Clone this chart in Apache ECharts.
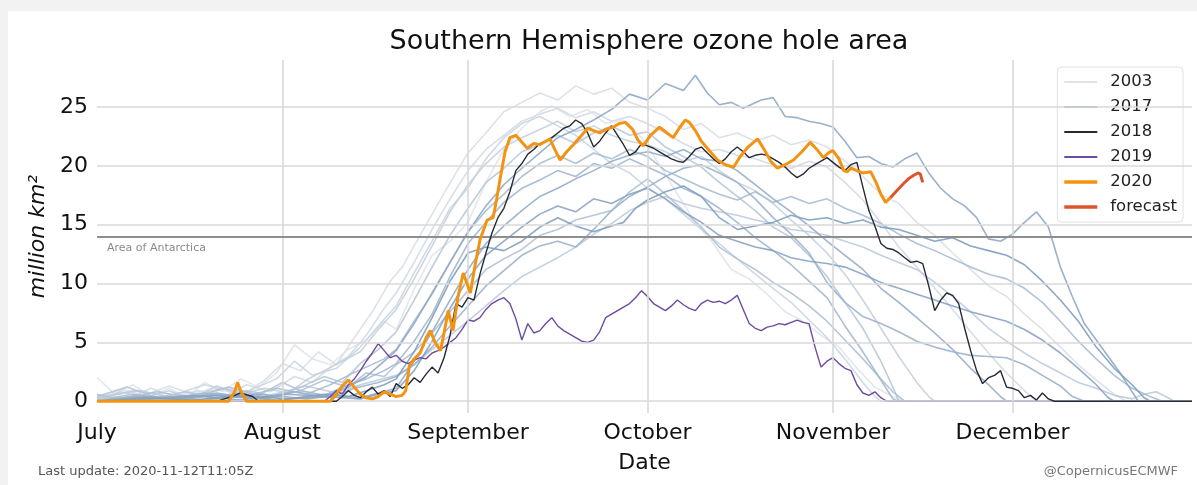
<!DOCTYPE html>
<html>
<head>
<meta charset="utf-8">
<script src="https://cdn.jsdelivr.net/npm/echarts@6/dist/echarts.min.js"></script>
<style>
html,body{margin:0;padding:0;background:#f2f2f2;}
#chart{width:1197px;height:485px;}
</style>
</head>
<body>
<div id="chart"></div>
<script>
// ---------- data ----------
const months = ['July', 'August', 'September', 'October', 'November', 'December'];
const monthStartDays = [0, 31, 62, 92, 123, 153];   // days since 1 July
const yTicks = [0, 5, 10, 15, 20, 25];
const antarcticaArea = 14;

// background years 2003-2017: [day since 1 July, million km2]
const y2003 = [[0,2],[3,0.6],[6,1.4],[9,0.4],[12,1.1],[15,0.3],[18,1.6],[21,0.8],[24,1.9],[27,1.2],[30,2.4],[33,4.8],[36,3.6],[39,3.1],[42,4.4],[45,5.2],[48,6.8],[50,6.1],[53,9.5],[56,12.4],[59,13.6],[62,15.2],[65,18.6],[68,21.4],[71,23.2],[74,24.6],[76,25.1],[79,24.2],[82,24.8],[85,23.6],[88,23.9],[91,22.4],[94,20.1],[97,17.6],[100,15.2],[103,13.4],[106,11.2],[109,10.4],[112,9.1],[115,7.6],[118,6.8],[121,5.6],[124,4.6],[127,2.8],[130,1.2],[133,0.4],[135,0],[183,0]];
const y2004 = [[0,0.3],[4,1],[8,0.5],[12,1.3],[16,0.6],[20,1.2],[24,0.4],[28,1.8],[31,3.2],[34,2.6],[37,4.2],[40,3.1],[43,5.4],[46,7.6],[49,10.2],[51,11.4],[54,14.1],[57,16.8],[60,19.4],[62,21.1],[65,22.8],[68,24.6],[71,25.4],[74,26.2],[77,25.6],[80,26.8],[83,26.1],[86,26.6],[89,25.4],[92,24.9],[95,24.2],[98,23.1],[101,23.6],[104,22.4],[107,22.8],[110,22.1],[113,22.6],[116,21.8],[119,22.2],[122,21.6],[125,20.4],[128,19.1],[131,17.6],[134,16.8],[137,15.2],[140,14.1],[143,12.6],[146,11.2],[149,9.8],[152,8.9],[155,7.4],[158,6.1],[161,4.6],[164,3.1],[167,1.8],[170,0.6],[172,0],[183,0]];
const y2005 = [[0,0.5],[5,0.2],[9,1.1],[13,0.4],[17,0.9],[21,0.3],[25,1.4],[29,0.8],[33,2.1],[36,1.6],[39,2.9],[42,3.8],[45,5.6],[48,7.9],[50,9.2],[53,11.8],[56,14.6],[59,17.2],[62,19.6],[65,21.4],[68,22.6],[71,23.8],[74,24.4],[77,24.9],[80,24.1],[83,24.6],[86,23.8],[89,24.2],[92,23.6],[95,22.8],[98,21.9],[101,21.2],[104,21.4],[107,20.9],[110,20.6],[113,20.1],[116,19.8],[119,20.4],[122,19.9],[125,18.6],[128,17.1],[131,15.2],[134,13.1],[137,11.4],[140,9.6],[143,7.8],[146,5.9],[149,4.1],[152,2.4],[155,0.9],[157,0],[183,0]];
const y2006 = [[0,0.2],[6,0.9],[12,0.4],[18,1.4],[24,0.6],[30,1.9],[33,3.4],[36,2.2],[40,2.8],[44,4.6],[47,6.4],[50,8.1],[53,10.9],[56,13.6],[59,16.4],[62,18.1],[65,20.6],[68,22.4],[71,23.6],[74,24.2],[77,23.4],[80,22.6],[83,21.4],[86,20.2],[89,19.4],[92,18.1],[95,17.2],[98,15.9],[101,14.6],[104,13.4],[107,12.1],[110,10.8],[113,9.6],[116,8.4],[119,6.9],[122,5.4],[125,3.6],[128,1.6],[130,0.4],[131,0],[183,0]];
const y2007 = [[0,0.2],[4,0.8],[8,0.3],[12,0.9],[16,0.2],[20,1.3],[24,0.6],[28,1.1],[32,0.7],[35,1.8],[38,2.6],[41,3.4],[44,4.2],[47,6.1],[50,7.8],[53,10.4],[56,13.2],[59,16.1],[62,18.4],[65,20.2],[68,21.6],[71,22.4],[74,23.1],[77,23.8],[80,22.9],[83,23.4],[86,22.6],[89,22.1],[92,21.8],[95,21.2],[98,20.4],[101,20.8],[104,19.6],[107,18.6],[110,17.9],[113,16.8],[116,15.4],[119,14.1],[122,12.6],[125,10.8],[128,8.6],[131,6.2],[134,3.8],[137,1.6],[139,0.4],[140,0],[183,0]];
const y2008 = [[0,0.3],[7,0.9],[14,0.2],[21,1.1],[28,0.4],[35,1.3],[40,0.7],[44,1.4],[47,1.8],[50,2.2],[53,3.1],[56,4.4],[59,5.6],[62,6.8],[65,8.1],[68,9.4],[71,10.6],[74,11.4],[77,12.2],[80,13.1],[83,14.2],[86,15.1],[89,16.2],[92,16.9],[95,17.4],[98,16.8],[101,16.4],[104,16.1],[107,15.8],[110,15.4],[113,15.1],[116,14.6],[119,14.4],[122,14.1],[125,13.6],[128,13.1],[131,12.4],[134,11.8],[137,11.2],[140,10.1],[143,8.9],[146,7.6],[149,6.2],[152,5.1],[155,4.1],[158,3.2],[161,2.4],[164,1.6],[167,1.1],[170,0.5],[173,0.2],[175,0.6],[177,0.8],[179,0.3],[180,0],[183,0]];
const y2009 = [[0,0.4],[5,1.2],[10,0.3],[15,0.8],[20,0.2],[25,0.9],[30,0.4],[34,1.2],[38,2.1],[41,1.6],[44,3.2],[47,4.4],[50,5.9],[53,8.6],[56,11.4],[59,14.1],[62,16.4],[65,18.6],[68,19.8],[71,21.2],[74,21.8],[77,22.6],[80,21.9],[83,22.8],[86,23.4],[89,22.6],[92,22.9],[95,21.6],[98,20.8],[101,19.9],[104,18.6],[107,17.4],[110,16.2],[113,14.8],[116,13.9],[119,12.4],[122,10.6],[125,8.4],[128,6.2],[131,3.4],[133,1.2],[134,0],[183,0]];
const y2010 = [[0,0.6],[4,0.1],[10,0.8],[16,0.3],[22,1.2],[27,0.5],[31,1.6],[34,0.9],[38,1.8],[42,1.2],[45,2.4],[48,2.1],[50,3.1],[53,4.2],[56,5.8],[59,7.6],[62,9.4],[65,11.2],[68,12.1],[71,12.9],[74,14.1],[77,14.6],[80,15.4],[83,15.8],[86,16.2],[89,17.8],[92,18.9],[95,17.6],[98,16.2],[101,14.8],[104,13.1],[107,12.1],[110,11.2],[113,10.1],[116,9.2],[119,8.1],[122,6.8],[125,5.2],[128,3.6],[131,1.9],[133,0.8],[135,0],[183,0]];
const y2011 = [[0,0.1],[6,0.6],[12,0.2],[18,0.7],[24,0.3],[30,1.1],[35,0.6],[39,1.4],[42,2.2],[45,2.9],[48,3.6],[50,4.4],[53,6.8],[56,9.1],[59,11.8],[62,14.4],[65,16.2],[68,17.6],[71,19.1],[74,20.2],[77,20.9],[80,20.2],[83,21.1],[86,20.6],[89,21.4],[92,20.8],[95,19.6],[98,18.9],[101,18.2],[104,17.6],[107,17.1],[110,17.8],[113,16.9],[116,17.4],[119,16.8],[122,17.2],[125,16.4],[128,15.8],[131,15.1],[134,14.2],[137,13.4],[140,12.8],[143,12.1],[146,11.4],[149,10.8],[152,10.4],[155,9.6],[158,8.4],[161,6.8],[164,5.1],[167,3.6],[170,2.2],[173,1.1],[176,0.4],[178,0],[183,0]];
const y2012 = [[0,0],[7,0.5],[14,0.1],[21,0.6],[28,0.2],[34,0.9],[38,0.5],[42,1.4],[45,1.9],[48,2.6],[50,3.2],[53,5.1],[56,7.4],[59,10.6],[62,13.4],[65,15.2],[68,16.9],[71,18.1],[74,18.8],[77,19.6],[80,19.1],[83,20.2],[86,19.8],[89,20.6],[92,19.9],[95,19.2],[98,18.1],[101,17.4],[104,16.4],[107,15.2],[110,13.9],[113,12.8],[116,11.6],[119,10.2],[122,8.8],[125,6.4],[128,4.2],[131,1.8],[133,0.2],[134,0],[183,0]];
const y2013 = [[0,0],[6,0.4],[13,0.1],[20,0.7],[26,0.2],[33,0.8],[39,0.3],[43,1.1],[47,1.6],[50,2.1],[53,3.1],[56,4.6],[59,6.4],[62,8.1],[65,9.8],[68,11.1],[71,12.4],[74,13.2],[77,13.6],[80,13.1],[83,14.6],[86,16.2],[89,17.4],[92,18.2],[95,19.1],[98,19.8],[101,20.1],[104,19.4],[107,18.6],[110,17.2],[113,15.6],[116,14.2],[119,12.6],[122,10.1],[125,8.4],[128,7.2],[131,6.6],[134,5.9],[137,5.1],[140,4.6],[143,4.2],[146,3.9],[149,3.8],[152,3.7],[155,3.1],[158,2.2],[161,1.3],[163,0.4],[165,0],[183,0]];
const y2014 = [[0,0],[9,0.4],[18,0.1],[27,0.6],[35,0.2],[40,0.5],[44,0.3],[47,0.7],[50,1.1],[53,3.4],[56,5.9],[59,8.6],[62,11.2],[65,13.4],[68,14.9],[71,16.2],[74,17.4],[77,18.1],[80,18.9],[83,19.6],[86,20.4],[89,20.9],[92,21.2],[95,20.8],[98,21.4],[101,20.6],[104,20.4],[107,19.6],[110,18.4],[113,17.2],[116,16.1],[119,14.9],[122,13.6],[125,12.4],[128,11.2],[131,9.6],[134,8.4],[137,7.1],[140,5.8],[143,4.4],[146,2.8],[149,1.4],[151,0.4],[152,0],[183,0]];
const y2015 = [[0,0],[8,0.2],[16,0.5],[24,0.1],[32,0.6],[38,0.4],[42,1.2],[45,2.1],[48,3.4],[50,4.3],[53,6.6],[56,9.2],[59,11.8],[62,14.4],[65,16.6],[68,18.4],[71,19.8],[74,21.1],[77,22.4],[80,23.1],[83,23.9],[86,24.8],[89,26.1],[92,25.6],[95,27],[98,26.4],[100,27.7],[102,26.2],[104,25.2],[106,25.4],[108,24.9],[111,25.6],[113,25.8],[115,24.2],[117,24.1],[119,23.8],[121,23.6],[123,23.3],[125,22.1],[127,20.7],[129,20.8],[131,20.2],[133,19.9],[135,20.6],[137,21.1],[139,19.4],[141,18.1],[143,17.2],[145,16.6],[147,15.6],[149,13.8],[151,13.6],[153,14.2],[155,15.2],[157,16.1],[159,14.8],[161,11.4],[163,8.9],[165,6.6],[167,5.2],[169,3.8],[171,2.4],[173,0.8],[174,0],[183,0]];
const y2016 = [[0,0],[10,0.2],[20,0.5],[30,0.1],[38,0.4],[44,0.2],[47,0.6],[50,0.9],[53,2.6],[56,5.1],[59,7.9],[62,10.4],[65,12.4],[68,13.6],[71,14.8],[74,15.9],[77,16.6],[80,16.1],[83,17.2],[86,16.8],[89,17.6],[92,18.1],[95,17.2],[98,16.1],[101,15.2],[104,14.1],[107,13.6],[110,13.1],[113,12.8],[116,12.2],[119,11.9],[122,11.7],[125,11.4],[128,10.8],[131,10.1],[134,9.6],[137,9.1],[140,8.6],[143,8.1],[146,7.6],[149,7.2],[152,6.8],[155,6.1],[158,5.2],[161,4.1],[164,2.8],[167,1.4],[169,0.3],[170,0],[183,0]];
const y2017 = [[0,0],[8,0.3],[16,0.1],[24,0.5],[32,0.2],[38,0.6],[42,0.4],[45,0.9],[48,1.4],[50,1.9],[53,4.2],[56,7.1],[59,10.2],[62,12.6],[65,13.1],[68,12.8],[71,13.6],[74,14.8],[77,15.6],[80,14.9],[83,14.4],[86,14.9],[88,15.2],[90,16.4],[92,17.1],[95,17.8],[98,18.3],[101,17.4],[104,15.6],[107,14.6],[110,14.9],[113,15.2],[116,15.8],[119,15.4],[122,15.6],[125,15.1],[128,15.4],[131,14.8],[134,14.6],[137,14.1],[140,13.6],[143,13.9],[146,13.2],[149,12.8],[152,12.4],[155,11.6],[158,10.2],[161,8.6],[164,6.8],[167,4.6],[170,2.8],[173,1.4],[175,0.3],[176,0],[183,0]];

const y2018 = [[0,0],[20,0],[22,0.3],[24,0.7],[26,0.4],[27,0],[40,0],[41,0.4],[42,0.9],[43,0.5],[44,0.3],[45,0.8],[46,1.2],[47,0.6],[48,0.9],[49,0.4],[50,1.5],[51,1.1],[52,1.4],[53,2.0],[54,1.6],[55,2.3],[56,2.9],[57,2.4],[58,3.7],[59,5.6],[60,8.3],[61,8.0],[62,8.8],[63,8.6],[64,10.8],[65,12.6],[66,14.3],[67,15.6],[68,16.4],[69,17.8],[70,19.6],[71,20.2],[72,21],[73,21.4],[74,21.9],[75,22.1],[76,22.4],[77,22.8],[78,23.2],[79,23.4],[80,23.9],[81,23.6],[82,22.8],[83,21.6],[84,22.1],[85,22.8],[86,23.4],[87,22.6],[88,21.8],[89,20.9],[90,21.2],[91,21.9],[92,21.7],[93,21.5],[94,21.2],[95,20.9],[96,20.6],[97,20.4],[98,20.3],[99,20.8],[100,21.4],[101,21.6],[102,21.1],[103,20.6],[104,20.2],[105,20.6],[106,21.2],[107,21.6],[108,21.2],[109,20.7],[110,20.9],[111,21.0],[112,20.9],[113,20.6],[114,20.3],[115,19.9],[116,19.4],[117,19.0],[118,19.3],[119,19.8],[120,20.1],[121,20.4],[122,20.7],[123,20.3],[124,19.9],[125,19.6],[126,20.1],[127,20.3],[128,18.2],[129,16.2],[130,14.9],[131,13.4],[132,13.0],[133,12.9],[134,12.6],[135,12.2],[136,11.8],[137,11.9],[138,11.7],[139,9.8],[140,7.7],[141,8.6],[142,9.2],[143,9.0],[144,8.3],[145,6.2],[146,4.3],[147,2.6],[148,1.5],[149,2.0],[150,2.2],[151,2.6],[152,1.2],[153,1.1],[154,0.9],[155,0.3],[156,0.5],[157,0.1],[158,0.7],[159,0.2],[160,0],[183,0]];

const y2019 = [[0,0],[38,0],[39,0.4],[40,0.9],[41,0.6],[42,1.4],[43,1.9],[44,2.6],[45,3.4],[46,4.1],[47,4.9],[48,4.3],[49,3.7],[50,3.9],[51,3.4],[52,3.2],[53,3.5],[54,3.7],[55,3.6],[56,4.1],[57,4.3],[58,4.6],[59,5.0],[60,5.4],[61,6.1],[62,6.9],[63,6.8],[64,7.1],[65,7.8],[66,8.3],[67,8.6],[68,8.8],[69,8.3],[70,7.0],[71,5.2],[72,6.6],[73,5.8],[74,6.0],[75,6.6],[76,7.1],[77,6.4],[78,6.0],[79,5.7],[80,5.4],[81,5.1],[82,5.0],[83,5.2],[84,5.9],[85,7.1],[86,7.4],[87,7.7],[88,8.0],[89,8.3],[90,8.8],[91,9.4],[92,8.9],[93,8.3],[94,8.0],[95,7.7],[96,8.1],[97,8.6],[98,8.2],[99,7.9],[100,7.7],[101,8.3],[102,8.6],[103,8.4],[104,8.5],[105,8.3],[106,8.6],[107,9.0],[108,7.8],[109,6.6],[110,6.2],[111,6.0],[112,6.3],[113,6.4],[114,6.6],[115,6.5],[116,6.7],[117,6.9],[118,6.7],[119,6.6],[120,4.6],[121,2.9],[122,3.4],[123,3.7],[124,3.2],[125,2.8],[126,2.6],[127,1.4],[128,0.7],[129,0.5],[130,0.8],[131,0.3],[132,0],[183,0]];

const y2020 = [[0,0],[22,0],[23,0.8],[23.5,1.6],[24,0.9],[25,0],[39,0],[40,0.6],[41,1.3],[42,1.8],[43,1.2],[44,0.6],[45,0.3],[46,0.2],[47,0.4],[48,0.8],[49,0.6],[50,0.4],[51,0.5],[51.6,0.9],[52.2,3.0],[53,3.6],[54,4.1],[55,5.4],[55.7,6.0],[56.5,5.0],[57.4,4.3],[58,5.8],[58.7,7.7],[59.5,6.0],[60.3,8.8],[61.2,10.9],[62.4,9.2],[63.2,11.6],[64,13.7],[65.2,15.4],[66.2,15.6],[66.8,17.2],[67.4,19.0],[68.2,21.2],[69,22.4],[70,22.6],[70.7,22.2],[71.9,21.5],[73,21.9],[74,21.8],[75,22.1],[75.7,22.3],[76.5,21.4],[77.4,20.5],[78.5,21.2],[79.6,21.8],[81,22.6],[82,23.2],[83,23.0],[84,22.8],[85,23.1],[86.3,23.3],[87.3,23.6],[88.3,23.7],[89.5,23.1],[90.4,22.2],[91.3,21.7],[92.5,22.6],[94,23.3],[95,22.9],[96.3,22.4],[97.3,23.2],[98.3,23.9],[99,23.7],[100,23.0],[101,22.1],[102.5,21.2],[103.7,20.5],[105,20.1],[106.4,19.9],[107.5,20.8],[108.8,21.6],[110.4,22.3],[111.5,21.4],[112.6,20.4],[113.7,19.8],[115,20.1],[116.4,20.5],[117.8,21.2],[119.2,22],[120.3,21.4],[121.4,20.7],[122.2,21.1],[123,21.3],[124,20.6],[124.8,19.6],[125.4,19.5],[126,19.8],[127,19.6],[128,19.4],[129.3,19.5],[130.2,18.6],[131,17.6],[131.8,16.9],[132.6,17.3]];
const forecast = [[132.6,17.3],[133.5,17.8],[134.8,18.5],[135.6,18.9],[136.5,19.2],[137.2,19.4],[137.6,19.3],[138,18.6]];

const backgroundYears = ['2003','2004','2005','2006','2007','2008','2009','2010','2011','2012','2013','2014','2015','2016','2017'];
const backgroundData = [y2003,y2004,y2005,y2006,y2007,y2008,y2009,y2010,y2011,y2012,y2013,y2014,y2015,y2016,y2017];

// ---------- styling ----------
const FONT = 'DejaVu Sans';
const lightRGB = [224, 228, 234], darkRGB = [128, 158, 192];
function bgColor(i) {
  const t = i / (backgroundYears.length - 1);
  const c = lightRGB.map((v, k) => Math.round(v + (darkRGB[k] - v) * t));
  return 'rgb(' + c.join(',') + ')';
}
const thinIcon = 'path://M0,0h33v2h-33z';
const thickIcon = 'path://M0,0h33v3.6h-33z';

const series = [];
// grid lines
series.push({
  type: 'line', data: [], z: 1, silent: true,
  markLine: {
    silent: true, symbol: 'none', animation: false,
    label: {show: false},
    lineStyle: {color: '#d9d9d9', width: 1.6, type: 'solid'},
    data: monthStartDays.slice(1).map(d => ({xAxis: d})).concat(yTicks.map(v => ({yAxis: v})))
  }
});
backgroundYears.forEach((yr, i) => {
  series.push({
    name: yr, type: 'line', data: backgroundData[i], showSymbol: false, symbol: 'none',
    z: 2, animation: false,
    lineStyle: {color: bgColor(i), width: 1.6, opacity: 0.9},
    itemStyle: {color: bgColor(i)}
  });
});
// Antarctica line
series.push({
  type: 'line', data: [], z: 3, silent: true,
  markLine: {
    silent: true, symbol: 'none', animation: false,
    lineStyle: {color: '#8e8e8e', width: 1.8, type: 'solid'},
    label: {show: true, position: 'insideStartBottom', formatter: 'Area of Antarctica',
            color: '#8a8a8a', fontFamily: FONT, fontSize: 11, distance: [10, 6]},
    data: [{yAxis: antarcticaArea}]
  }
});
series.push({name: '2019', type: 'line', data: y2019, showSymbol: false, symbol: 'none', z: 4, animation: false,
  lineStyle: {color: '#6d4b9f', width: 1.4}, itemStyle: {color: '#6d4b9f'}});
series.push({name: '2018', type: 'line', data: y2018, showSymbol: false, symbol: 'none', z: 5, animation: false,
  lineStyle: {color: '#252a35', width: 1.4}, itemStyle: {color: '#252a35'}});
series.push({name: '2020', type: 'line', data: y2020, showSymbol: false, symbol: 'none', z: 6, animation: false,
  lineStyle: {color: '#f39312', width: 3}, itemStyle: {color: '#f39312'}});
series.push({name: 'forecast', type: 'line', data: forecast, showSymbol: false, symbol: 'none', z: 7, animation: false,
  lineStyle: {color: '#e0522a', width: 3}, itemStyle: {color: '#e0522a'}});

const chart = echarts.init(document.getElementById('chart'), null, {renderer: 'canvas'});
chart.setOption({
  backgroundColor: '#f2f2f2',
  animation: false,
  textStyle: {fontFamily: FONT},
  graphic: [
    {type: 'rect', z: -10, silent: true, shape: {x: 8, y: 11, width: 1189, height: 474}, style: {fill: '#ffffff'}},
    {type: 'text', left: 38, top: 465, silent: true,
     style: {text: 'Last update: 2020-11-12T11:05Z', fill: '#555555', font: '13px "DejaVu Sans"'}},
    {type: 'text', right: 19, top: 465, silent: true,
     style: {text: '@CopernicusECMWF', fill: '#777777', font: '13px "DejaVu Sans"'}}
  ],
  title: {
    text: 'Southern Hemisphere ozone hole area',
    left: 644, top: 23, textAlign: 'center',
    textStyle: {fontFamily: FONT, fontSize: 27, fontWeight: 'normal', color: '#111'}
  },
  legend: {
    data: [
      {name: '2003', icon: thinIcon}, {name: '2017', icon: thinIcon},
      {name: '2018', icon: thinIcon}, {name: '2019', icon: thinIcon},
      {name: '2020', icon: thickIcon}, {name: 'forecast', icon: thickIcon}
    ],
    orient: 'vertical', right: 14, top: 67,
    backgroundColor: 'rgba(255,255,255,0.8)', borderColor: '#e2e2e2', borderWidth: 1, borderRadius: 4,
    padding: [6, 6, 6, 7], itemWidth: 33, itemHeight: 14, itemGap: 7,
    textStyle: {fontFamily: FONT, fontSize: 16.5, color: '#222', lineHeight: 18, padding: [0, 0, 0, 8]}
  },
  grid: {left: 97, right: 5, top: 60, bottom: 72},
  xAxis: {
    type: 'value', min: 0, max: 183,
    name: 'Date', nameLocation: 'middle', nameGap: 39,
    nameTextStyle: {fontFamily: FONT, fontSize: 22, color: '#111'},
    axisLine: {show: false}, axisTick: {show: false}, splitLine: {show: false},
    axisLabel: {
      customValues: monthStartDays, margin: 9,
      fontFamily: FONT, fontSize: 22, color: '#111',
      formatter: v => months[monthStartDays.indexOf(v)] || ''
    }
  },
  yAxis: {
    type: 'value', min: -1, max: 29,
    name: 'million km²', nameLocation: 'middle', nameGap: 47, nameRotate: 90,
    nameTextStyle: {fontFamily: FONT, fontSize: 22, fontStyle: 'italic', color: '#111'},
    axisLine: {show: false}, axisTick: {show: false}, splitLine: {show: false},
    axisLabel: {customValues: yTicks, margin: 9, fontFamily: FONT, fontSize: 22, color: '#111'}
  },
  series: series
});
</script>
</body>
</html>
